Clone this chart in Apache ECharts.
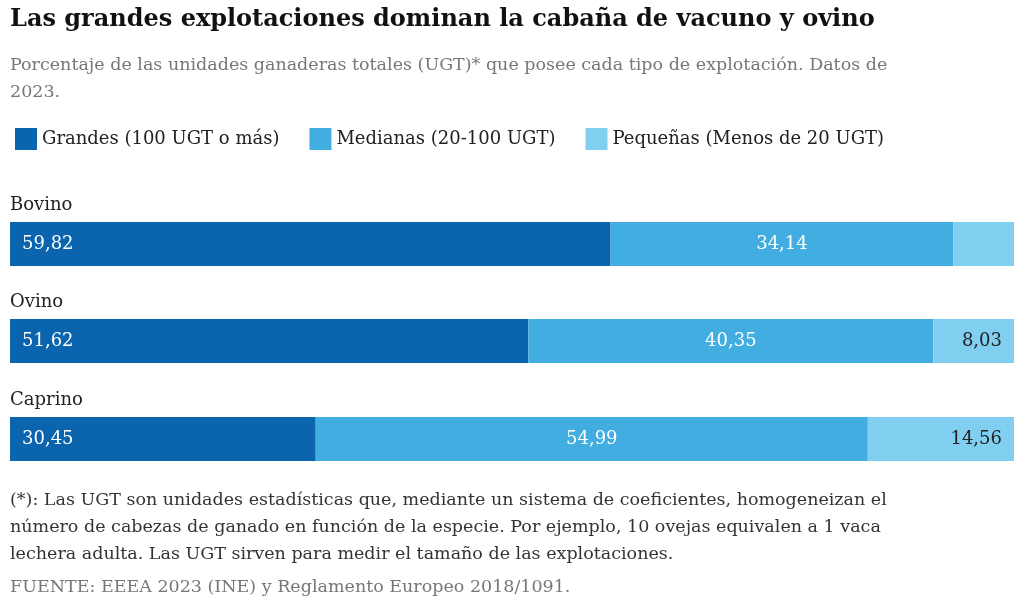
<!DOCTYPE html>
<html>
<head>
<meta charset="UTF-8">
<script src="https://cdn.jsdelivr.net/npm/echarts@6/dist/echarts.min.js"></script>
<style>html,body{margin:0;padding:0;background:#fff}</style>
</head>
<body>
<div id="chart" style="width:1024px;height:613px"></div>
<script>
var species = ['Bovino', 'Ovino', 'Caprino'];
var seriesNames = ['Grandes (100 UGT o más)', 'Medianas (20-100 UGT)', 'Pequeñas (Menos de 20 UGT)'];
var grandes = [59.82, 51.62, 30.45];
var medianas = [34.14, 40.35, 54.99];
var pequenas = [6.04, 8.03, 14.56];
var colors = ['#0a64ae', '#41ade0', '#80cff0'];

var FONT = 'DejaVu Serif';
var tops = [222, 319, 417];
var grids = [], xAxes = [], yAxes = [], series = [];
var values = [grandes, medianas, pequenas];
function fmt(v) { return String(v.toFixed(2)).replace('.', ','); }

species.forEach(function (sp, i) {
    grids.push({left: 10, right: 10, top: tops[i], height: 44});
    xAxes.push({type: 'value', gridIndex: i, min: 0, max: 100, show: false});
    yAxes.push({
        type: 'category', gridIndex: i, data: [sp],
        axisLine: {show: false}, axisTick: {show: false}, axisLabel: {show: false},
        name: sp, nameLocation: 'end', nameGap: 8,
        nameTextStyle: {fontFamily: FONT, fontSize: 18, color: '#222', align: 'left', verticalAlign: 'bottom'}
    });
    values.forEach(function (arr, k) {
        var lbl = {show: true, fontFamily: FONT, fontSize: 18, formatter: function (p) { return fmt(p.value); }};
        if (k === 0) { lbl.position = 'insideLeft'; lbl.color = '#fff'; lbl.distance = 12; }
        if (k === 1) { lbl.position = 'inside'; lbl.color = '#fff'; }
        if (k === 2) { lbl.position = 'insideRight'; lbl.color = '#222'; lbl.distance = 12; lbl.show = arr[i] > 7; }
        series.push({
            name: seriesNames[k], type: 'bar', stack: 's' + i,
            xAxisIndex: i, yAxisIndex: i, barWidth: '100%',
            itemStyle: {color: colors[k]}, label: lbl, data: [arr[i]], silent: true
        });
    });
});

var chart = echarts.init(document.getElementById('chart'));
chart.setOption({
    animation: false,
    grid: grids, xAxis: xAxes, yAxis: yAxes, series: series,
    legend: {
        left: 10, top: 123, itemWidth: 22, itemHeight: 22, itemGap: 30, icon: 'rect',
        data: seriesNames,
        textStyle: {fontFamily: FONT, fontSize: 18, color: '#222'}
    },
    graphic: [
        {type: 'text', left: 10, top: 8, style: {text: 'Las grandes explotaciones dominan la cabaña de vacuno y ovino', fontFamily: FONT, fontSize: 24, fontWeight: 'bold', fill: '#111'}},
        {type: 'text', left: 10, top: 52, style: {text: 'Porcentaje de las unidades ganaderas totales (UGT)* que posee cada tipo de explotación. Datos de\n2023.', fontFamily: FONT, fontSize: 17.5, lineHeight: 27, fill: '#777'}},
        {type: 'text', left: 10, top: 487, style: {text: '(*): Las UGT son unidades estadísticas que, mediante un sistema de coeficientes, homogeneizan el\nnúmero de cabezas de ganado en función de la especie. Por ejemplo, 10 ovejas equivalen a 1 vaca\nlechera adulta. Las UGT sirven para medir el tamaño de las explotaciones.', fontFamily: FONT, fontSize: 17.5, lineHeight: 27, fill: '#333'}},
        {type: 'text', left: 10, top: 578, style: {text: 'FUENTE: EEEA 2023 (INE) y Reglamento Europeo 2018/1091.', fontFamily: FONT, fontSize: 17.5, fill: '#777'}}
    ]
});
</script>
</body>
</html>
